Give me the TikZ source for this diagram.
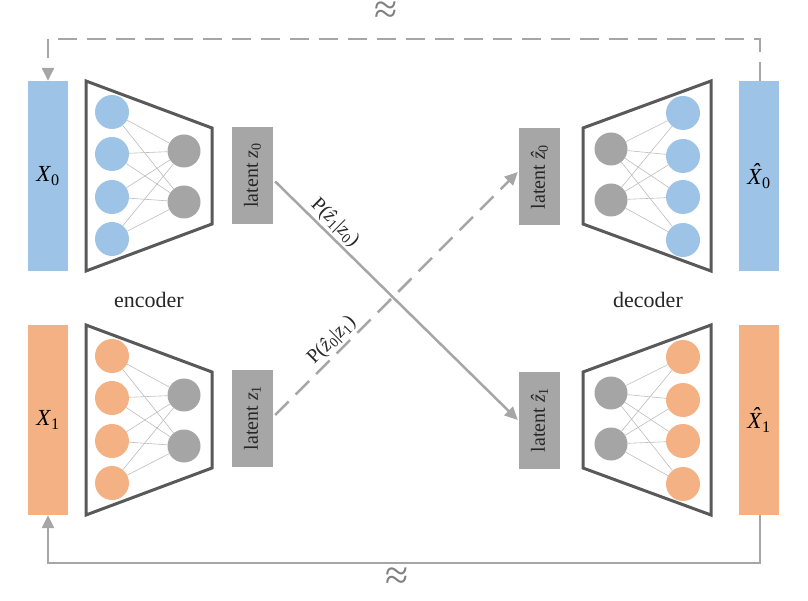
\documentclass[tikz,border=0pt]{standalone}
\usepackage{fontspec}
\setmainfont{Liberation Serif}
\usetikzlibrary{arrows.meta,calc}
\definecolor{netblue}{HTML}{9DC3E6}
\definecolor{netorange}{HTML}{F4B183}
\definecolor{hidgray}{HTML}{A5A5A5}
\definecolor{latgray}{HTML}{A6A6A6}
\definecolor{framegray}{HTML}{595959}
\definecolor{wiregray}{HTML}{BDBDBD}
\definecolor{linkgray}{HTML}{A6A6A6}
\definecolor{approxgray}{HTML}{808080}
% italic variable with an upright index, set in the text font so it scales freely
\newcommand{\ivar}[2]{\textit{#1}\textsubscript{#2}}
\newcommand{\hvar}[2]{\textit{\^{#1}}\textsubscript{#2}}
% capital with a circumflex laid over it by hand
\newcommand{\hcap}[2]{\textit{\makebox[0pt][l]{\hspace{0.2em}\raisebox{0.2em}{\symbol{"02C6}}}#1}\textsubscript{#2}}
\begin{document}
\begin{tikzpicture}[x=1pt,y=-1pt,
  bar/.style={rectangle, minimum width=40pt, minimum height=190pt, inner sep=0pt,
    font=\fontsize{23}{27}\selectfont},
  latentbox/.style={rectangle, fill=latgray, rotate=90, minimum width=97pt,
    minimum height=41pt, inner sep=0pt, text=black!85, font=\fontsize{20}{24}\selectfont},
  neuron/.style={circle, minimum size=34pt, inner sep=0pt},
  hidden/.style={neuron, fill=hidgray, minimum size=33pt},
  wire/.style={draw=wiregray, line width=0.6pt},
  frame/.style={draw=framegray, line width=3pt, line join=miter},
  link/.style={draw=linkgray, line width=2.5pt},
  longdash/.style={dash pattern=on 19pt off 10pt},
  tip/.style={-{Triangle[length=13pt,width=12pt]}},
  caption/.style={font=\fontsize{22}{26}\selectfont, text=black!85},
  prob/.style={font=\fontsize{20}{24}\selectfont, text=black!85, inner sep=2pt},
  approx/.style={font=\fontsize{42}{42}\selectfont, text=approxgray, inner sep=0pt,
    text height=0.7em, text depth=0pt}
]
\useasboundingbox (0,0) rectangle (808,601);

% input / reconstruction bars
\node[bar, fill=netblue]   (x0)  at (48,176)  {\ivar{X}{0}};
\node[bar, fill=netorange] (x1)  at (48,420)  {\ivar{X}{1}};
\node[bar, fill=netblue]   (xh0) at (759,176) {\hcap{X}{0}};
\node[bar, fill=netorange] (xh1) at (759,420) {\hcap{X}{1}};

% encoder / decoder outlines
\draw[frame] (86,81) -- (212,128) -- (212,224) -- (86,271) -- cycle;
\draw[frame] (86,325) -- (212,372) -- (212,468) -- (86,515) -- cycle;
\draw[frame] (583,128) -- (711,81) -- (711,271) -- (583,224) -- cycle;
\draw[frame] (583,372) -- (711,325) -- (711,515) -- (583,468) -- cycle;

% encoder networks
\foreach \i/\y in {1/112,2/154,3/197,4/239} {
  \node[neuron, fill=netblue]   (ea\i) at (112,\y) {};
  \node[neuron, fill=netorange] (eb\i) at (112,\y+244) {};
}
\foreach \j/\y in {1/151,2/202} {
  \node[hidden] (ha\j) at (184,\y) {};
  \node[hidden] (hb\j) at (184,\y+244) {};
}
\foreach \i in {1,...,4} \foreach \j in {1,2} {
  \draw[wire] (ea\i) -- (ha\j);
  \draw[wire] (eb\i) -- (hb\j);
}

% decoder networks
\foreach \i/\y in {1/113,2/156,3/197,4/240} {
  \node[neuron, fill=netblue]   (da\i) at (683,\y) {};
  \node[neuron, fill=netorange] (db\i) at (683,\y+244) {};
}
\foreach \j/\y in {1/149,2/200} {
  \node[hidden] (ga\j) at (611,\y) {};
  \node[hidden] (gb\j) at (611,\y+244) {};
}
\foreach \i in {1,...,4} \foreach \j in {1,2} {
  \draw[wire] (ga\j) -- (da\i);
  \draw[wire] (gb\j) -- (db\i);
}

% latent codes (rotated: south anchor is the right edge, north the left)
\node[latentbox] (z0)  at (252.5,175.5) {latent \ivar{z}{0}};
\node[latentbox] (z1)  at (252.5,418)   {latent \ivar{z}{1}};
\node[latentbox] (zh0) at (539.5,177)   {latent \hvar{z}{0}};
\node[latentbox] (zh1) at (539.5,420)   {latent \hvar{z}{1}};

\node[caption] (enc) at (149,300) {encoder};
\node[caption] (dec) at (648,300) {decoder};

% cross-domain mappings
\draw[link, tip] ([xshift=2pt,yshift=-6pt]z0.south) -- ([xshift=-1pt]zh1.north)
  node[prob, sloped, above, pos=0.21] {P(\hvar{z}{1}|\ivar{z}{0})};
\draw[link, longdash, tip] ([xshift=2pt,yshift=3pt]z1.south) -- ([xshift=-1pt,yshift=5pt]zh0.north)
  node[prob, sloped, above, pos=0.27] {P(\hvar{z}{0}|\ivar{z}{1})};

% reconstruction loops
\coordinate (topline) at (400,39);
\coordinate (botline) at (400,563);
\draw[link, longdash, tip] ([xshift=1pt]xh0.north) |- (topline) -| (x0.north);
\draw[link, tip] ([xshift=1pt]xh1.south) |- (botline) -| (x1.south);

\node[approx] (apx0) at (386,20)  {≈};
\node[approx] (apx1) at (397,586) {≈};
\end{tikzpicture}
\end{document}
